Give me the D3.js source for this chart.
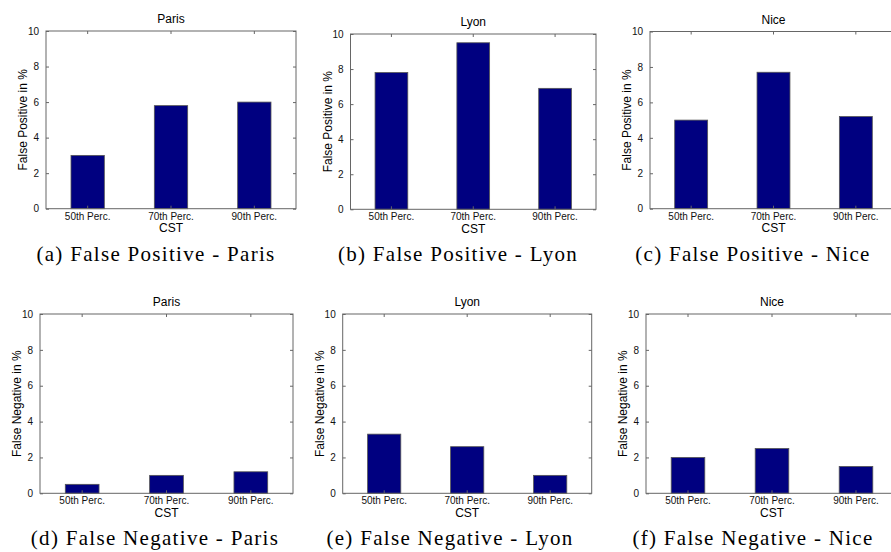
<!DOCTYPE html>
<html>
<head>
<meta charset="utf-8">
<script src="https://cdn.jsdelivr.net/npm/d3@7"></script>
<style>
  body { margin: 0; background: #fff; }
  svg { display: block; overflow: hidden; }
</style>
</head>
<body>
<div id="holder"></div>
<script>
const w = 891;
const h = 552;

// DATA
const categories = ["50th Perc.", "70th Perc.", "90th Perc."];
const yTicks = [0, 2, 4, 6, 8, 10];

const fpParis = [3.0, 5.8, 6.0];
const fpLyon = [7.8, 9.5, 6.9];
const fpNice = [5.0, 7.7, 5.2];

const fnParis = [0.5, 1.0, 1.2];
const fnLyon = [3.3, 2.6, 1.0];
const fnNice = [2.0, 2.5, 1.5];

// PANEL LAYOUT
const panels = [
  { title: "Paris", ylab: "False Positive in %", cap: "(a) False Positive - Paris", vals: fpParis, l: 46, r: 296, t: 31, b: 208.7, cx: 156 },
  { title: "Lyon", ylab: "False Positive in %", cap: "(b) False Positive - Lyon", vals: fpLyon, l: 350.5, r: 596, t: 34, b: 209.3, cx: 458 },
  { title: "Nice", ylab: "False Positive in %", cap: "(c) False Positive - Nice", vals: fpNice, l: 650, r: 897, t: 31.5, b: 208.7, cx: 753 },
  { title: "Paris", ylab: "False Negative in %", cap: "(d) False Negative - Paris", vals: fnParis, l: 40, r: 293, t: 314, b: 493.3, cx: 155 },
  { title: "Lyon", ylab: "False Negative in %", cap: "(e) False Negative - Lyon", vals: fnLyon, l: 342.7, r: 591.7, t: 314, b: 493.3, cx: 450 },
  { title: "Nice", ylab: "False Negative in %", cap: "(f) False Negative - Nice", vals: fnNice, l: 646, r: 898, t: 314, b: 493.3, cx: 753 }
];

// CREATE SVG
const svg = d3.select("#holder")
  .append("svg")
  .attr("width", w)
  .attr("height", h);

const sans = "'Liberation Sans', Arial, sans-serif";

panels.forEach(p => {
  const g = svg.append("g");

  let x = d3.scaleBand()
    .domain(categories)
    .range([p.l, p.r])
    .paddingInner(0.6)
    .paddingOuter(0.3);

  let y = d3.scaleLinear()
    .domain([0, 10])
    .range([p.b, p.t]);

  // BARS
  g.selectAll("rect.bar")
    .data(p.vals)
    .enter()
    .append("rect")
    .attr("class", "bar")
    .attr("x", (d, i) => x(categories[i]))
    .attr("y", d => y(d))
    .attr("width", x.bandwidth())
    .attr("height", d => y(0) - y(d))
    .attr("fill", "#000080")
    .attr("stroke", "#555")
    .attr("stroke-width", 0.8);

  // AXES (ticks point inward like matlab)
  const styleAxis = sel => {
    sel.select(".domain").remove();
    sel.selectAll("line").attr("stroke", "#666");
    sel.selectAll("text").attr("fill", "#111").style("font-family", sans).style("font-size", "10px");
  };

  g.append("g")
    .attr("transform", "translate(" + p.l + ",0)")
    .call(d3.axisLeft(y).tickValues(yTicks).tickSize(-3).tickPadding(7))
    .call(styleAxis);

  g.append("g")
    .attr("transform", "translate(" + p.r + ",0)")
    .call(d3.axisRight(y).tickValues(yTicks).tickSize(-3).tickFormat(""))
    .call(styleAxis);

  g.append("g")
    .attr("transform", "translate(0," + p.b + ")")
    .call(d3.axisBottom(x).tickSize(-3).tickPadding(4))
    .call(styleAxis);

  g.append("g")
    .attr("transform", "translate(0," + p.t + ")")
    .call(d3.axisTop(x).tickSize(-3).tickFormat(""))
    .call(styleAxis);

  // BOX
  g.append("rect")
    .attr("x", p.l)
    .attr("y", p.t)
    .attr("width", p.r - p.l)
    .attr("height", p.b - p.t)
    .attr("fill", "none")
    .attr("stroke", "#666")
    .attr("stroke-width", 1);

  // TITLE
  g.append("text")
    .attr("x", (p.l + p.r) / 2)
    .attr("y", p.t - 8)
    .attr("text-anchor", "middle")
    .style("font-family", sans)
    .style("font-size", "12px")
    .text(p.title);

  // X LABEL
  g.append("text")
    .attr("x", x(categories[1]) + x.bandwidth() / 2)
    .attr("y", p.b + 23.5)
    .attr("text-anchor", "middle")
    .style("font-family", sans)
    .style("font-size", "12px")
    .text("CST");

  // Y LABEL
  g.append("text")
    .attr("transform", "translate(" + (p.l - 19) + "," + ((p.t + p.b) / 2) + ") rotate(-90)")
    .attr("text-anchor", "middle")
    .style("font-family", sans)
    .style("font-size", "12px")
    .text(p.ylab);

  // CAPTION
  g.append("text")
    .attr("x", p.cx)
    .attr("y", p.b + 52)
    .attr("text-anchor", "middle")
    .style("font-family", "'Liberation Serif', 'Times New Roman', serif")
    .style("font-size", "21px")
    .style("letter-spacing", "1.3px")
    .text(p.cap);
});
</script>
</body>
</html>
